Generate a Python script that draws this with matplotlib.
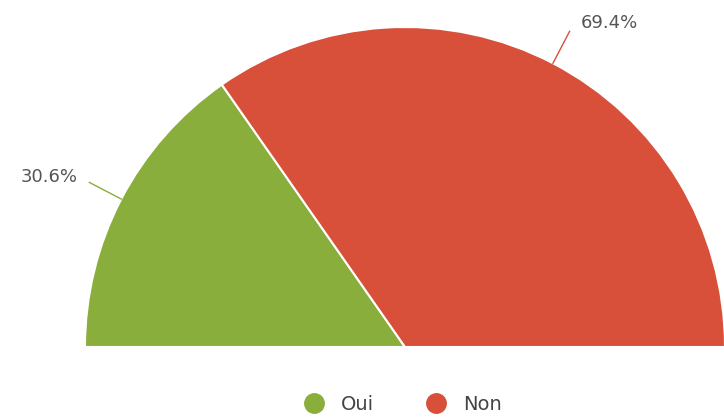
import numpy as np
import matplotlib.pyplot as plt
from matplotlib.lines import Line2D

labels = ['Oui', 'Non']
values = [30.6, 69.4]
colors = ['#8aae3c', '#d8503a']

fig = plt.figure(figsize=(7.24, 4.19), dpi=100)
ax = fig.add_axes([0, 0, 1, 1])

cx, cy, r = 405, -347, 320
fracs = [v / 100 * 0.5 for v in values]
wedges, _ = ax.pie(fracs, colors=colors, radius=r, center=(cx, cy), startangle=180,
                   counterclock=False, normalize=False, frame=True,
                   wedgeprops=dict(edgecolor='white', linewidth=1.5))
ax.set_xlim(0, 724)
ax.set_ylim(-419, 0)
ax.set_aspect('equal')
ax.axis('off')

for w, v in zip(wedges, values):
    mid = np.deg2rad((w.theta1 + w.theta2) / 2)
    x0, y0 = cx + r * np.cos(mid), cy + r * np.sin(mid)
    x1, y1 = cx + (r + 36) * np.cos(mid), cy + (r + 36) * np.sin(mid)
    ax.plot([x0, x1], [y0, y1], color=w.get_facecolor(), lw=1)
    if np.cos(mid) < 0:
        ax.text(x1 - 12, y1 + 5, f'{v}%', ha='right', va='center', fontsize=13,
                color='#555555', family='DejaVu Sans')
    else:
        ax.text(x1 + 11, y1 + 8, f'{v}%', ha='left', va='center', fontsize=13,
                color='#555555', family='DejaVu Sans')

handles = [Line2D([], [], marker='o', ls='', markersize=14, markerfacecolor=c,
                  markeredgecolor=c) for c in colors]
ax.legend(handles, labels, loc='center', bbox_to_anchor=(0.55, 0.035), ncol=2, frameon=False,
          prop={'family': 'DejaVu Sans', 'size': 14}, labelcolor='#444444',
          handletextpad=0.4, columnspacing=2.2)

fig.savefig('out.png', dpi=100)
